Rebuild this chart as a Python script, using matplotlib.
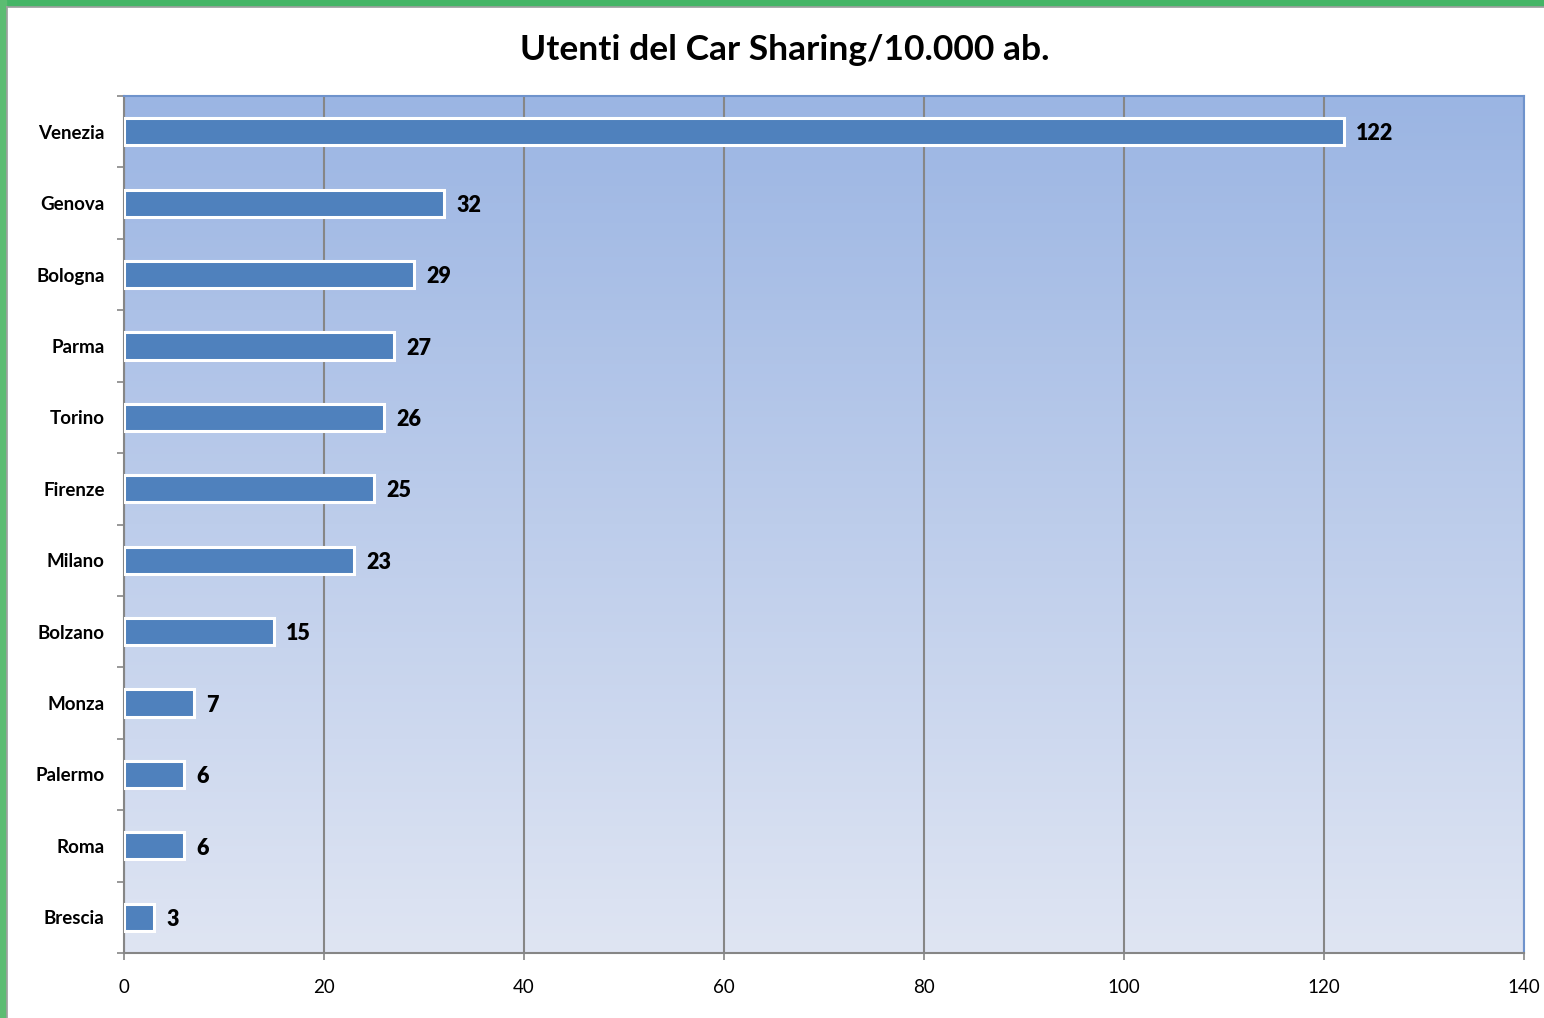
import numpy as np
import matplotlib.pyplot as plt
from matplotlib.colors import LinearSegmentedColormap
from matplotlib.patches import Rectangle

cities = ['Venezia', 'Genova', 'Bologna', 'Parma', 'Torino', 'Firenze',
          'Milano', 'Bolzano', 'Monza', 'Palermo', 'Roma', 'Brescia']
users = [122, 32, 29, 27, 26, 25, 23, 15, 7, 6, 6, 3]
xticks = [0, 20, 40, 60, 80, 100, 120, 140]

plt.rcParams['font.family'] = ['Lato', 'DejaVu Sans']

fig = plt.figure(figsize=(15.44, 10.18), dpi=100)
fig.patch.set_facecolor('white')

# green frame on top and left edge, grey inner line
fig.patches.append(Rectangle((0, 1 - 6 / 1018), 1, 6 / 1018, transform=fig.transFigure,
                             color='#45b566', zorder=0))
fig.patches.append(Rectangle((0, 0), 6 / 1544, 1, transform=fig.transFigure,
                             color='#5cbc72', zorder=0))
fig.add_artist(plt.Line2D([7 / 1544, 7 / 1544], [0, 1 - 7 / 1018], transform=fig.transFigure,
                          color='#a0a0a0', lw=1.2))
fig.add_artist(plt.Line2D([7 / 1544, 1], [1 - 7 / 1018, 1 - 7 / 1018], transform=fig.transFigure,
                          color='#a0a0a0', lw=1.2))

ax = fig.add_axes([124 / 1544, 1 - 953 / 1018, 1400 / 1544, 857 / 1018])

# gradient background
cmap = LinearSegmentedColormap.from_list('bg', ['#9bb5e3', '#dfe5f3'])
grad = np.linspace(0, 1, 256).reshape(-1, 1)
ax.imshow(grad, cmap=cmap, aspect='auto', extent=[0, 140, len(cities) - 0.5, -0.5],
          zorder=0)

y = np.arange(len(cities))
ax.barh(y, users, height=0.38, color='#4f81bd', edgecolor='white', linewidth=2.2, zorder=3)
for yi, v in zip(y, users):
    ax.text(v + 1.2, yi + 0.03, str(v), va='center', ha='left', fontsize=15.5,
            fontweight='heavy', color='black', zorder=4)

ax.set_xlim(0, 140)
ax.set_ylim(len(cities) - 0.5, -0.5)
ax.set_xticks(xticks)
ax.set_xticklabels([str(t) for t in xticks], fontsize=13.5)
ax.set_yticks(y)
ax.set_yticklabels(cities, fontsize=13.5, fontweight='bold')
ax.set_yticks(np.arange(-0.5, len(cities), 1), minor=True)
ax.tick_params(axis='y', which='major', length=0, pad=14)
ax.tick_params(axis='y', which='minor', length=5, color='#868686', width=1.2)
ax.tick_params(axis='x', length=5, color='#868686', width=1.2, pad=14)

ax.grid(axis='x', color='#868686', linewidth=1.5, zorder=1)
ax.set_axisbelow(True)
for s in ['left', 'bottom']:
    ax.spines[s].set_color('#868686')
    ax.spines[s].set_linewidth(1.5)
for s in ['top', 'right']:
    ax.spines[s].set_color('#6f93cc')
    ax.spines[s].set_linewidth(1.5)

fig.text(785 / 1544, 1 - 50 / 1018, 'Utenti del Car Sharing/10.000 ab.', ha='center',
         va='center', fontsize=25.5, fontweight='bold')

fig.savefig('out.png', dpi=100)
